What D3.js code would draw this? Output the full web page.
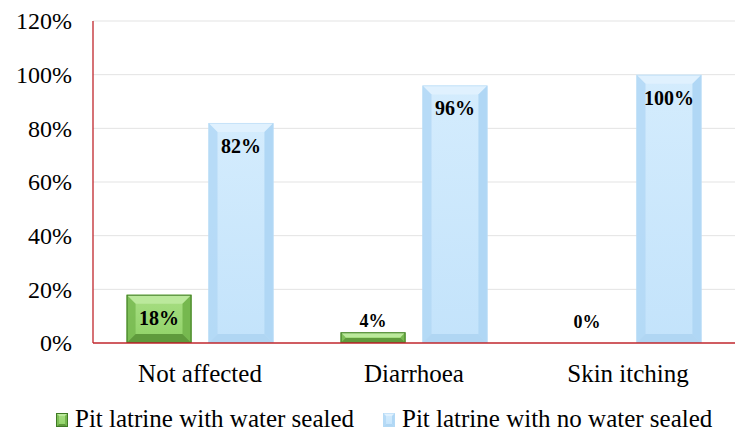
<!DOCTYPE html>
<html><head><meta charset="utf-8">
<script src="https://cdn.jsdelivr.net/npm/d3@7"></script>
<style>body{margin:0;background:#fff}svg{display:block}svg text{font-family:"Liberation Serif","Times New Roman",serif}</style>
</head><body>
<script>
const categories = ["Not affected", "Diarrhoea", "Skin itching"];
const seriesNames = ["Pit latrine with water sealed", "Pit latrine with no water sealed"];
const sealed = [18, 4, 0];
const notSealed = [82, 96, 100];
const yTicks = [0, 20, 40, 60, 80, 100, 120];

const W = 750, H = 442;
const margin = {left: 93, right: 15, top: 21, bottom: 99};
const svg = d3.select("body").append("svg").attr("width", W).attr("height", H);
const x0 = d3.scaleBand().domain(categories).range([margin.left, W - margin.right]).paddingInner(0).paddingOuter(0);
const x1 = d3.scaleBand().domain([0, 1]).range([0, x0.bandwidth()]).paddingInner(0.207).paddingOuter(0.41);
const y = d3.scaleLinear().domain([0, 120]).range([H - margin.bottom, margin.top]);

// gridlines
svg.append("g").selectAll("line").data(yTicks.slice(1)).join("line")
  .attr("x1", margin.left).attr("x2", W - margin.right)
  .attr("y1", d => y(d)).attr("y2", d => y(d))
  .attr("stroke", "#e3e3e3").attr("stroke-width", 1);

// y axis labels
const yAxis = d3.axisLeft(y).tickValues(yTicks).tickFormat(d => d + "%").tickSize(0).tickPadding(21);
const gy = svg.append("g").attr("transform", `translate(${margin.left},0)`).call(yAxis);
gy.select(".domain").remove();
gy.attr("font-family", null);
gy.selectAll("text").attr("font-size", 24).attr("fill", "#000");

// x axis labels
const xAxis = d3.axisBottom(x0).tickSize(0).tickPadding(21);
const gx = svg.append("g").attr("transform", `translate(0,${y(0)})`).call(xAxis);
gx.select(".domain").remove();
gx.attr("font-family", null);
gx.selectAll("text").attr("font-size", 25).attr("fill", "#000");

const defs = svg.append("defs");
const pal = [
  {face: "#8fd266", top: "#bbe99c", side: "#76b84f", bottom: "#5f9a3c", edge: "#3f7a25"},
  {face: "#c3e3fb", top: "#e0f1fe", side: "#b0d7f5", bottom: "#b0d6f3", edge: "#b6daf5"}
];
pal.forEach((p, i) => {
  const g = defs.append("linearGradient").attr("id", "face" + i).attr("x1", 0).attr("x2", 0).attr("y1", 0).attr("y2", 1);
  g.append("stop").attr("offset", 0).attr("stop-color", i === 0 ? "#a8de84" : "#d4ecfd");
  g.append("stop").attr("offset", 1).attr("stop-color", p.face);
});

function drawBar(g, xl, w, yt, yb, i, bev) {
  const p = pal[i];
  const h = yb - yt;
  if (h <= 0) return;
  const b = Math.min(bev || 9, h / 2.2, w / 4);
  const xr = xl + w;
  g.append("rect").attr("x", xl).attr("y", yt).attr("width", w).attr("height", h).attr("fill", "url(#face" + i + ")");
  g.append("path").attr("d", `M${xl},${yt}L${xr},${yt}L${xr-b},${yt+b}L${xl+b},${yt+b}Z`).attr("fill", p.top);
  g.append("path").attr("d", `M${xl},${yt}L${xl+b},${yt+b}L${xl+b},${yb-b}L${xl},${yb}Z`).attr("fill", p.side).attr("opacity", 0.8);
  g.append("path").attr("d", `M${xr},${yt}L${xr-b},${yt+b}L${xr-b},${yb-b}L${xr},${yb}Z`).attr("fill", p.side);
  g.append("path").attr("d", `M${xl},${yb}L${xl+b},${yb-b}L${xr-b},${yb-b}L${xr},${yb}Z`).attr("fill", p.bottom);
  g.append("rect").attr("x", xl + 0.5).attr("y", yt + 0.5).attr("width", w - 1).attr("height", h - 1)
    .attr("fill", "none").attr("stroke", p.edge).attr("stroke-width", i === 0 ? 1 : 0.6);
}

const barsG = svg.append("g");
[sealed, notSealed].forEach((vals, i) => {
  vals.forEach((v, k) => {
    const xl = x0(categories[k]) + x1(i);
    drawBar(barsG, xl, x1.bandwidth(), y(v), y(0), i);
  });
});

// value labels
[sealed, notSealed].forEach((vals, i) => {
  vals.forEach((v, k) => {
    const cx = x0(categories[k]) + x1(i) + x1.bandwidth() / 2;
    const inside = (y(0) - y(v)) > 30;
    const ty = inside ? y(v) + 30 : Math.min(y(v) - 5, y(0) - 15);
    svg.append("text").attr("x", cx).attr("y", ty).attr("text-anchor", "middle")
      .attr("font-weight", "bold").attr("font-size", inside ? 20 : 18)
      .attr("fill", "#000").text(v + "%");
  });
});

// axes lines
svg.append("line").attr("x1", margin.left).attr("x2", margin.left).attr("y1", y(120)).attr("y2", y(0))
  .attr("stroke", "#c0262c").attr("stroke-width", 1.3);
svg.append("line").attr("x1", margin.left).attr("x2", W - margin.right).attr("y1", y(0)).attr("y2", y(0))
  .attr("stroke", "#c0262c").attr("stroke-width", 1.5);

// legend
const legend = svg.append("g");
const legX = [56, 383];
seriesNames.forEach((n, i) => {
  const lg = legend.append("g").attr("transform", `translate(${legX[i]},413)`);
  drawBar(lg, 0, 12, 0, 14, i, 4);
  lg.append("text").attr("x", 19).attr("y", 14).attr("font-size", 25)
    .attr("fill", "#000").text(n);
});
</script>
</body></html>
